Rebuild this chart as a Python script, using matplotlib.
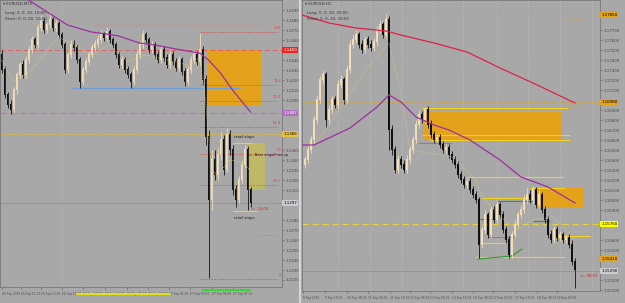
import matplotlib
matplotlib.use('Agg')
import matplotlib.pyplot as plt
import matplotlib.transforms as mtransforms
from matplotlib.patches import Rectangle
import numpy as np

W, H = 625, 303
BG = '#a8a8a8'
BULL = '#f2ddb6'
BEAR = '#111111'
PURPLE = '#9b2fa3'
CRIMSON = '#e0204a'
ORANGE = '#e3a21a'
YELLOW = '#f2d21a'
TAN = '#c9a24a'
FIBRED = '#e04040'

# ---------------- left chart (M15) ----------------
l_open0 = 1.1445
l_close = [1.1430, 1.1405, 1.1395, 1.1390, 1.1410, 1.1425, 1.1435, 1.1425, 1.1440, 1.1450,
           1.1460, 1.1455, 1.1472, 1.1478, 1.1470, 1.1475, 1.1480, 1.1472, 1.1476, 1.1465,
           1.1455, 1.1430, 1.1445, 1.1455, 1.1452, 1.1440, 1.1418, 1.1430, 1.1438, 1.1445,
           1.1452, 1.1456, 1.1460, 1.1465, 1.1462, 1.1468, 1.1460, 1.1455, 1.1445, 1.1435,
           1.1440, 1.1430, 1.1425, 1.1418, 1.1430, 1.1445, 1.1455, 1.1465, 1.1460, 1.1450,
           1.1455, 1.1445, 1.1440, 1.1450, 1.1442, 1.1435, 1.1445, 1.1438, 1.1432, 1.1440,
           1.1428, 1.1418, 1.1430, 1.1440, 1.1445, 1.1438, 1.1450, 1.1420, 1.1363, 1.1300,
           1.1340, 1.1325, 1.1345, 1.1360, 1.1330, 1.1365, 1.1350, 1.1310, 1.1300, 1.1320,
           1.1335, 1.1350, 1.1310, 1.1297]
l_high = [1.1450, 1.1434, 1.1408, 1.1400, 1.1413, 1.1428, 1.1438, 1.1440, 1.1444, 1.1454,
          1.1464, 1.1463, 1.1476, 1.1485, 1.1482, 1.1478, 1.1488, 1.1483, 1.1480, 1.1479,
          1.1468, 1.1458, 1.1448, 1.1460, 1.1460, 1.1455, 1.1443, 1.1433, 1.1442, 1.1449,
          1.1456, 1.1460, 1.1465, 1.1470, 1.1468, 1.1473, 1.1471, 1.1463, 1.1458, 1.1448,
          1.1444, 1.1443, 1.1434, 1.1428, 1.1434, 1.1450, 1.1459, 1.1470, 1.1468, 1.1463,
          1.1459, 1.1458, 1.1449, 1.1454, 1.1454, 1.1446, 1.1449, 1.1449, 1.1442, 1.1444,
          1.1443, 1.1432, 1.1434, 1.1444, 1.1450, 1.1449, 1.1467, 1.1454, 1.1425, 1.1370,
          1.1350, 1.1350, 1.1352, 1.1368, 1.1365, 1.1372, 1.1370, 1.1355, 1.1315, 1.1324,
          1.1340, 1.1355, 1.1354, 1.1313]
l_low = [1.1427, 1.1402, 1.1392, 1.1386, 1.1387, 1.1406, 1.1422, 1.1422, 1.1422, 1.1437,
         1.1447, 1.1452, 1.1452, 1.1469, 1.1467, 1.1467, 1.1472, 1.1469, 1.1469, 1.1462,
         1.1452, 1.1427, 1.1427, 1.1442, 1.1449, 1.1437, 1.1412, 1.1415, 1.1427, 1.1435,
         1.1442, 1.1449, 1.1453, 1.1457, 1.1459, 1.1459, 1.1457, 1.1452, 1.1442, 1.1432,
         1.1432, 1.1427, 1.1422, 1.1412, 1.1415, 1.1427, 1.1442, 1.1452, 1.1457, 1.1447,
         1.1447, 1.1442, 1.1437, 1.1437, 1.1439, 1.1432, 1.1432, 1.1435, 1.1429, 1.1429,
         1.1425, 1.1414, 1.1415, 1.1427, 1.1437, 1.1435, 1.1435, 1.1415, 1.1355, 1.1222,
         1.1290, 1.1320, 1.1320, 1.1340, 1.1325, 1.1328, 1.1345, 1.1305, 1.1293, 1.1297,
         1.1317, 1.1332, 1.1290, 1.1293]
l_ma_idx = [0, 9, 22, 30, 35, 39, 46, 51, 60, 66, 69, 73, 77, 83]
l_ma = [1.1512, 1.1500, 1.1475, 1.1468, 1.1466, 1.1464, 1.1457, 1.1455, 1.1450, 1.1447,
        1.1440, 1.1427, 1.1410, 1.1388]
l_ema_idx = [0, 4, 10, 19, 24, 30, 36, 42, 48, 55, 62, 66, 68, 70, 72, 76, 80, 83]
l_ema = [1.1440, 1.1418, 1.1430, 1.1463, 1.1455, 1.1445, 1.1455, 1.1438, 1.1445, 1.1440,
         1.1435, 1.1442, 1.1400, 1.1330, 1.1325, 1.1340, 1.1338, 1.1330]
l_fib = [1.1468, 1.1415, 1.1399, 1.1373, 1.1346, 1.1315, 1.1221]
l_fib_txt = ['100', '78.6', '70.5', '61.8', '50', '38.2', '0']
l_tags = [(1.1450, '#ee2222', 'white'), (1.1387, '#b070c0', 'white'),
          (1.1366, '#e8c040', 'black'), (1.1297, '#c8ccd0', 'black')]
l_times = ['26 Sep 2019', '26 Sep 11:00', '26 Sep 13:00', '26 Sep 15:00', '26 Sep 17:00',
           '26 Sep 19:00', '26 Sep 21:00', '26 Sep 23:00', '27 Sep 01:00', '27 Sep 03:00',
           '27 Sep 05:00', '27 Sep 07:00']
l_time_pos = [0.2, 6.6, 13.3, 20.2, 27.2, 34.5, 41.8, 48.8, 55.8, 62.8, 70.2, 77.2]

# ---------------- right chart (H1) ----------------
r_open0 = 1.1635
r_close = [1.1640, 1.1650, 1.1660, 1.1680, 1.1700, 1.1720, 1.1725, 1.1680, 1.1690, 1.1700,
           1.1695, 1.1715, 1.1720, 1.1700, 1.1730, 1.1755, 1.1760, 1.1765, 1.1755, 1.1750,
           1.1760, 1.1755, 1.1752, 1.1758, 1.1770, 1.1775, 1.1765, 1.1780, 1.1670, 1.1650,
           1.1630, 1.1640, 1.1635, 1.1630, 1.1640, 1.1650, 1.1660, 1.1675, 1.1685, 1.1680,
           1.1690, 1.1675, 1.1665, 1.1660, 1.1662, 1.1655, 1.1650, 1.1652, 1.1645, 1.1640,
           1.1635, 1.1625, 1.1620, 1.1615, 1.1618, 1.1610, 1.1605, 1.1600, 1.1555, 1.1570,
           1.1585, 1.1565, 1.1590, 1.1580, 1.1595, 1.1585, 1.1570, 1.1560, 1.1545, 1.1565,
           1.1575, 1.1585, 1.1590, 1.1600, 1.1605, 1.1600, 1.1610, 1.1595, 1.1605, 1.1590,
           1.1580, 1.1565, 1.1560, 1.1570, 1.1562, 1.1565, 1.1560, 1.1562, 1.1555, 1.1538,
           1.1530]
r_high = [1.1644, 1.1654, 1.1664, 1.1684, 1.1705, 1.1724, 1.1730, 1.1728, 1.1695, 1.1705,
          1.1704, 1.1720, 1.1725, 1.1723, 1.1735, 1.1760, 1.1765, 1.1770, 1.1768, 1.1760,
          1.1764, 1.1764, 1.1760, 1.1762, 1.1774, 1.1780, 1.1778, 1.1786, 1.1784, 1.1675,
          1.1654, 1.1645, 1.1644, 1.1640, 1.1645, 1.1654, 1.1664, 1.1680, 1.1690, 1.1689,
          1.1693, 1.1694, 1.1680, 1.1669, 1.1666, 1.1666, 1.1659, 1.1656, 1.1656, 1.1649,
          1.1644, 1.1639, 1.1629, 1.1624, 1.1622, 1.1622, 1.1614, 1.1609, 1.1603, 1.1574,
          1.1590, 1.1588, 1.1594, 1.1594, 1.1600, 1.1598, 1.1589, 1.1574, 1.1564, 1.1569,
          1.1580, 1.1589, 1.1595, 1.1605, 1.1612, 1.1610, 1.1614, 1.1613, 1.1610, 1.1608,
          1.1594, 1.1584, 1.1570, 1.1574, 1.1574, 1.1569, 1.1568, 1.1566, 1.1566, 1.1560,
          1.1542]
r_low = [1.1632, 1.1637, 1.1647, 1.1657, 1.1677, 1.1697, 1.1716, 1.1673, 1.1676, 1.1687,
         1.1692, 1.1692, 1.1712, 1.1696, 1.1697, 1.1727, 1.1752, 1.1757, 1.1752, 1.1747,
         1.1747, 1.1752, 1.1749, 1.1749, 1.1755, 1.1767, 1.1762, 1.1762, 1.1650, 1.1645,
         1.1627, 1.1627, 1.1632, 1.1627, 1.1627, 1.1637, 1.1647, 1.1657, 1.1672, 1.1677,
         1.1677, 1.1672, 1.1662, 1.1657, 1.1658, 1.1652, 1.1647, 1.1647, 1.1642, 1.1637,
         1.1632, 1.1622, 1.1617, 1.1612, 1.1612, 1.1607, 1.1602, 1.1597, 1.1542, 1.1552,
         1.1567, 1.1562, 1.1562, 1.1577, 1.1577, 1.1582, 1.1567, 1.1557, 1.1542, 1.1542,
         1.1562, 1.1572, 1.1582, 1.1587, 1.1597, 1.1597, 1.1597, 1.1592, 1.1592, 1.1587,
         1.1577, 1.1562, 1.1557, 1.1557, 1.1559, 1.1559, 1.1557, 1.1557, 1.1552, 1.1535,
         1.1512]
r_red_idx = [-1, 8, 17, 27, 32, 43, 54, 65, 76, 90]
r_red = [1.1785, 1.1777, 1.1772, 1.1769, 1.1765, 1.1757, 1.1748, 1.1732, 1.1717, 1.1697]
r_ma_idx = [-1, 3, 15, 24, 28, 32, 37, 43, 48, 55, 65, 72, 81, 90]
r_ma = [1.1655, 1.1655, 1.1672, 1.1693, 1.1705, 1.1698, 1.1683, 1.1675, 1.1670, 1.1660,
        1.1640, 1.1623, 1.1613, 1.1597]
r_ema_idx = [2, 9, 21, 28, 32, 35, 49, 57, 59, 65, 71, 76, 83, 90]
r_ema = [1.1650, 1.1680, 1.1733, 1.1757, 1.1707, 1.1650, 1.1643, 1.1620, 1.1603, 1.1583,
         1.1570, 1.1580, 1.1583, 1.1560]
r_tags = [(1.1785, ORANGE, 'black'), (1.1698, ORANGE, 'black'), (1.1576, '#ffff00', 'black'),
          (1.1541, ORANGE, 'black'), (1.1529, '#c8ccd0', 'black')]
r_times = ['9 Sep 2019', '9 Sep 16:00', '10 Sep 08:00', '11 Sep 00:00', '11 Sep 16:00',
           '12 Sep 08:00', '13 Sep 00:00', '13 Sep 16:00', '16 Sep 08:00', '17 Sep 00:00',
           '17 Sep 16:00', '18 Sep 08:00', '19 Sep 00:00']
r_time_pos = [-0.7, 6.7, 14, 21, 28.3, 35, 41.7, 49, 56, 62.7, 70, 77.3, 84]
r_grid_pos = [11, 21.7, 32.3, 42.7, 52.7, 64, 74.3, 85, 95.7]


def draw_candles(ax, open0, closes, highs, lows):
    closes = np.array(closes)
    opens = np.r_[open0, closes[:-1]]
    x = np.arange(len(closes))
    colors = np.where(closes >= opens, BULL, BEAR)
    ax.vlines(x, lows, highs, colors=colors, lw=0.6, zorder=3)
    ax.bar(x, np.abs(closes - opens) + 0.00008, bottom=np.minimum(opens, closes),
           width=0.66, color=colors, lw=0, zorder=3)


def price_tags(ax, tags, fmt):
    tr = mtransforms.blended_transform_factory(ax.transAxes, ax.transData)
    for y, fc, tc in tags:
        ax.text(1.004, y, fmt % y, transform=tr, fontsize=2.9, color=tc, va='center', ha='left',
                bbox=dict(boxstyle='square,pad=0.2', fc=fc, ec='none'), clip_on=False, zorder=10)


def style_axes(ax, ylo, yhi, fmt, times, tpos, tags):
    ax.set_facecolor(BG)
    ax.set_ylim(ylo, yhi)
    ax.yaxis.tick_right()
    ticks = np.arange(np.ceil(ylo * 1000) / 1000, yhi, 0.001)
    # the coloured price tags cover the grid labels next to them
    ticks = [t for t in ticks if min(abs(t - g[0]) for g in tags) > 0.00075]
    ax.set_yticks(ticks)
    ax.set_yticklabels([fmt % t for t in ticks])
    ax.set_xticks(tpos)
    ax.set_xticklabels(times, ha='left')
    ax.tick_params(axis='y', labelsize=2.9, colors='#4a4a4a', length=1.2, width=0.4, pad=1.5)
    ax.tick_params(axis='x', labelsize=2.1, colors='#4a4a4a', length=1.2, width=0.4, pad=2.5)
    for s in ax.spines.values():
        s.set_color('#777777')
        s.set_linewidth(0.6)


fig = plt.figure(figsize=(W / 100, H / 100), dpi=100, facecolor=BG)

# ---------------- left panel ----------------
ax = fig.add_axes([0, (H - 287) / H, 282 / W, 287 / H])
ax.set_xlim(-0.5, 93.5)
style_axes(ax, 1.1213, 1.1500, '%.4f', l_times, l_time_pos, l_tags)
ax.axvline(20.2, color='#c0c0c0', lw=0.5, ls=(0, (1, 2)), zorder=0)

ax.add_patch(Rectangle((68.8, 1.1395), 17.7, 0.0055, fc=ORANGE, ec='none', zorder=1))
ax.add_patch(Rectangle((81.8, 1.1310), 6.0, 0.0047, fc='#c4bc5e', ec='none', alpha=0.85, zorder=1))

ax.hlines(1.1475, 31, 87, color='#e08a8a', lw=0.9, zorder=2)
ax.axhline(1.1450, color='#e06060', lw=0.7, ls=(0, (5, 3)), zorder=2)
ax.hlines(1.1412, 23.5, 79.5, color='#6f9fd8', lw=0.9, zorder=2)
ax.axhline(1.1387, color='#b27ab8', lw=0.9, ls=(0, (5, 3)), zorder=2)
ax.axhline(1.1366, color='#d8b84a', lw=0.8, ls=(0, (2, 1)), zorder=2)
ax.axhline(1.1297, color='#8a95a0', lw=0.6, zorder=2)
ax.hlines(1.1265, 85.5, 92, color='#888888', lw=0.6, ls=(0, (1, 2)), zorder=2)
for lvl, txt in zip(l_fib, l_fib_txt):
    ax.hlines(lvl, 66, 92, color=FIBRED, lw=0.5, ls=(0, (2, 2)), zorder=2)
    ax.text(93.2, lvl + 0.0002, txt, fontsize=2.6, color=FIBRED, ha='right', va='bottom', zorder=6)
ax.hlines(1.1357, 77.2, 83.5, color=YELLOW, lw=0.8, zorder=4)
ax.hlines(1.1289, 77.2, 85.2, color=YELLOW, lw=0.8, zorder=4)

draw_candles(ax, l_open0, l_close, l_high, l_low)
ax.plot(l_ema_idx, l_ema, color='#e4d878', lw=0.5, ls=(0, (1, 1.5)), zorder=4)
ax.plot(l_ma_idx, l_ma, color=PURPLE, lw=0.9, zorder=4)

ax.text(77.5, 1.1361, 'retail stops', fontsize=2.6, color='#1a1a1a', va='bottom', zorder=6)
ax.text(77.5, 1.1284, 'retail stops', fontsize=2.6, color='#1a1a1a', va='top', zorder=6)
ax.text(82.3, 1.1345, '<-- Bear engulf set up', fontsize=2.6, color='#1a1a1a', va='center', zorder=6)
ax.text(83.3, 1.1293, '<-- 14:00', fontsize=2.6, color='#d02020', va='top', zorder=6)

blend = mtransforms.blended_transform_factory(ax.transData, ax.transAxes)
ax.plot([25.2, 56.2], [-0.024, -0.024], color='#f0f000', lw=1.2, transform=blend, clip_on=False)
ax.plot([67.2, 82.8], [-0.010, -0.010], color='#22dd22', lw=1.2, transform=blend, clip_on=False)
price_tags(ax, l_tags, '%.4f')

# ---------------- right panel ----------------
ax = fig.add_axes([302 / W, (H - 291) / H, 298 / W, 291 / H])
ax.set_xlim(-1, 98.33)
style_axes(ax, 1.1509, 1.1800, '%.5f', r_times, r_time_pos, r_tags)
for g in r_grid_pos:
    ax.axvline(g, color='#c4c4c4', lw=0.5, ls=(0, (1, 2)), zorder=0)

ax.add_patch(Rectangle((39.3, 1.1660), 46.4, 0.0028, fc=ORANGE, ec='none', zorder=1))
ax.add_patch(Rectangle((77.3, 1.1593), 15.4, 0.0019, fc=ORANGE, ec='none', zorder=1))

ax.axhline(1.1785, color=TAN, lw=0.7, ls=(0, (5, 3)), zorder=2)
ax.axhline(1.1698, color=TAN, lw=0.7, ls=(0, (5, 3)), zorder=2)
ax.axhline(1.1576, color='#e6d23a', lw=0.9, ls=(0, (5, 3)), zorder=2)
ax.axhline(1.1541, color=TAN, lw=0.7, ls=(0, (5, 3)), zorder=2)
ax.axhline(1.1529, color='#8a95a0', lw=0.6, zorder=2)
ax.text(87.7, 1.1783, 'Wk High', fontsize=2.6, color=TAN, va='top', zorder=6)
ax.text(87.0, 1.1696, 'Wk Low', fontsize=2.6, color=TAN, va='top', zorder=6)

yl = [(1.1692, 39, 87.7), (1.1665, 39, 88.3), (1.1660, 41.7, 88.3), (1.1623, 53.7, 86),
      (1.1612, 75, 86.7), (1.1602, 59, 75), (1.1564, 84, 95), (1.1557, 59, 68.3),
      (1.1543, 56.7, 86.7)]
for lvl, a, b in yl:
    ax.hlines(lvl, a, b, color=YELLOW, lw=0.8, zorder=2)
for lvl, a, b in [(1.1657, 37.7, 49), (1.1589, 63, 65.7), (1.1563, 61, 70)]:
    ax.hlines(lvl, a, b, color='#e06060', lw=0.8, zorder=2)
for lvl, a, b in [(1.1599, 64, 75.7), (1.1581, 58.3, 63.3), (1.1579, 76, 81.7)]:
    ax.hlines(lvl, a, b, color='#2f9a2f', lw=0.8, zorder=2)
ax.plot([57.7, 69, 72.3], [1.1541, 1.1544, 1.1551], color='#2f9a2f', lw=0.8, zorder=2)

draw_candles(ax, r_open0, r_close, r_high, r_low)
ax.plot(r_ema_idx, r_ema, color='#e4d878', lw=0.5, ls=(0, (1, 1.5)), zorder=4)
ax.plot(r_ma_idx, r_ma, color=PURPLE, lw=0.9, zorder=4)
ax.plot(r_red_idx, r_red, color=CRIMSON, lw=0.9, zorder=4)
ax.text(91.7, 1.1526, '<-- 08:03', fontsize=2.6, color='#d02020', va='top', zorder=6)
price_tags(ax, r_tags, '%.5f')

# headers
for x0, name, l1, l2 in [(3, 'EURUSD,M15', 'Long: 0, 0, 10, 10:00', 'Short: 0, 0, 00, 10:00'),
                         (305, 'EURUSD,H1', 'Long: 0, 0, 20, 20:00', 'Short: 0, 0, 30, 30:00')]:
    fig.text(x0 / W, 1 - 4 / H, '\u25be ' + name, fontsize=2.8, color='#333333', va='center')
    fig.text((x0 + 2) / W, 1 - 13 / H, l1, fontsize=2.8, color='#333333', va='center')
    fig.text((x0 + 2) / W, 1 - 19 / H, l2, fontsize=2.8, color='#333333', va='center')

fig.add_artist(plt.Line2D([299.5 / W, 299.5 / W], [0, 1], color='#d6d6d6', lw=1.5))

fig.savefig('out.png', dpi=100, facecolor=BG)
